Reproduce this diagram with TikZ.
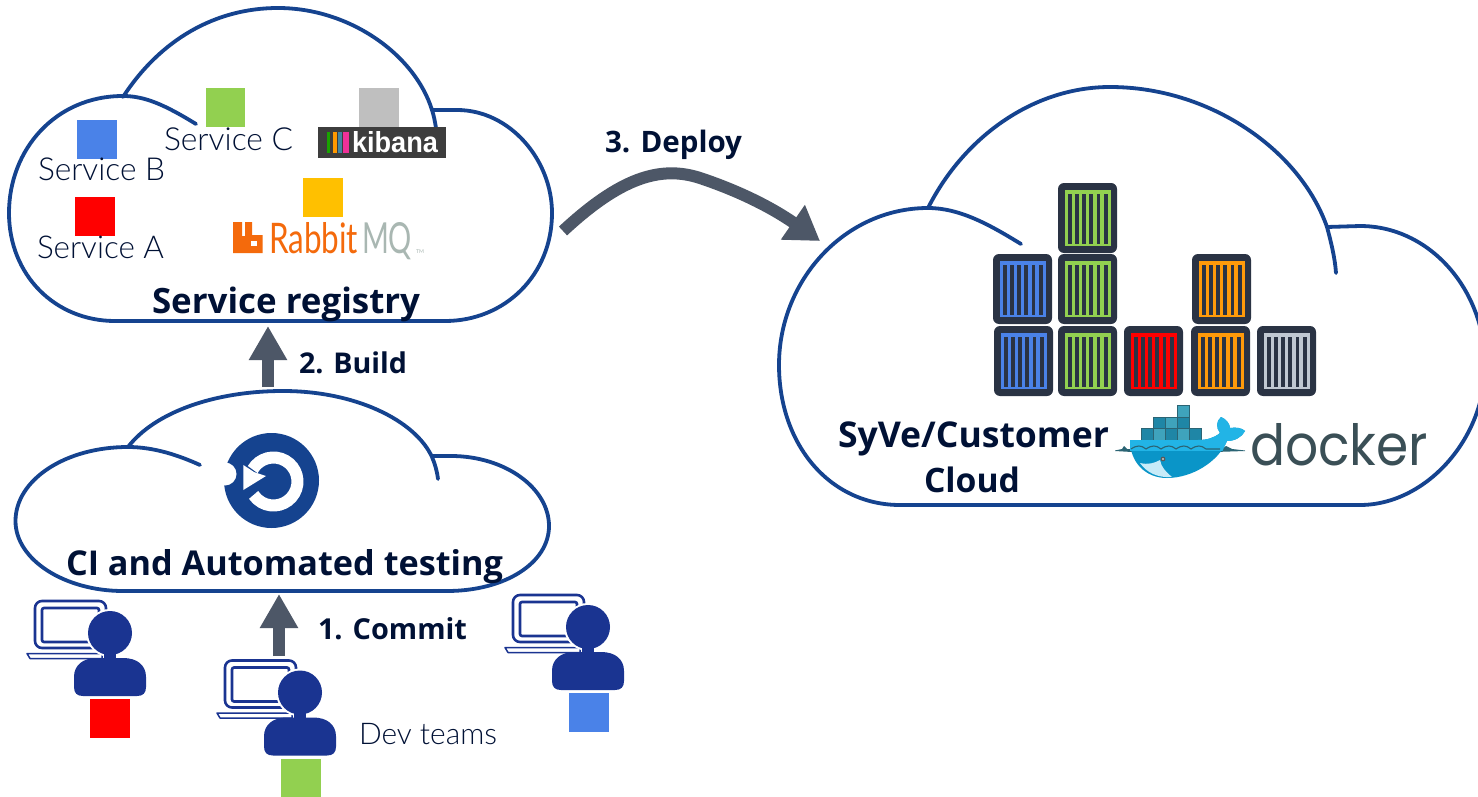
\documentclass[tikz,border=0pt]{standalone}
\usepackage{fontspec}
\usepackage{graphicx}
\usetikzlibrary{arrows.meta}
\setmainfont{Open Sans}
\newfontfamily\lab{Lato Light}
\newfontfamily\rab{Lato}
\newfontfamily\lsans{Liberation Sans}
\newfontfamily\poppins{Poppins}
\definecolor{cloudblue}{HTML}{15438F}
\definecolor{inktext}{HTML}{001135}
\definecolor{arrowgrey}{HTML}{4D5767}
\definecolor{persblue}{HTML}{1A3491}
\definecolor{sqred}{HTML}{FF0000}
\definecolor{sqblue}{HTML}{4A82E8}
\definecolor{sqgreen}{HTML}{92D050}
\definecolor{sqgrey}{HTML}{BFBFBF}
\definecolor{sqyellow}{HTML}{FFC000}
\definecolor{sqorange}{HTML}{FF9A0A}
\definecolor{sqsilver}{HTML}{C0C8D2}
\definecolor{boxdark}{HTML}{2A3344}
\definecolor{rabbit}{HTML}{F46A0C}
\definecolor{mqgrey}{HTML}{A9B7B2}
\definecolor{dockgrey}{HTML}{3A4F56}
\definecolor{whale}{HTML}{0A95C8}
\definecolor{whalelight}{HTML}{22B4E6}
\definecolor{boxteal}{HTML}{1F86A6}
\definecolor{boxlight}{HTML}{3FA3BC}
\definecolor{boxedge}{HTML}{2B6474}
\definecolor{kibdark}{HTML}{3D3D3D}
\tikzset{
  cloudline/.style={draw=cloudblue,line width=3.8pt,line cap=round,line join=round},
  txt/.style={inner sep=0pt,outer sep=0pt,anchor=base west,text=inktext},
  flowarrow/.style={draw=arrowgrey,line width=12pt,-{Triangle[length=34pt,width=36pt]}},
  sqbox/.style={draw=none,inner sep=0pt,outer sep=0pt,anchor=north west},
  lapline/.style={draw=persblue,line width=2.6pt},
}
% name, x0, y0, width, height, colour
\newcommand{\sqn}[6]{\node[sqbox,fill=#6,minimum width=#4pt,minimum height=#5pt] (#1) at (#2,#3) {};}
% text fitted to a width
\newcommand{\fitw}[2]{\resizebox{#1pt}{!}{#2}}
% container: name, x, y, colour
\newcommand{\contbox}[4]{%
  \node[sqbox,fill=boxdark,rounded corners=6pt,minimum width=59pt,minimum height=70pt] (#1) at (#2,#3) {};
  \begin{scope}[shift={(#2,#3)}]
    \fill[#4] (7,6.7) rectangle (53,63.3);
    \foreach \k in {0,...,5} {\fill[boxdark] ({9.7+\k*7.2},10.7) rectangle ({13.5+\k*7.2},60.7);}
  \end{scope}}
% developer: prefix, head x, head y
\newcommand{\devperson}[3]{%
  \begin{scope}[shift={(#2,#3)}]
    \draw[lapline,rounded corners=7pt] (-75,15) rectangle (-4,-32);
    \draw[lapline,rounded corners=2pt] (-68,9) rectangle (-11,-25);
    \draw[persblue,line width=1.5pt,fill=white,line join=round] (-83,20.5) -- (-8,20.5) -- (-8,25.5) -- (-80,25.5) -- cycle;
    \coordinate (#1head) at (0,0);
    \fill[white] (0,0) ellipse [x radius=24pt,y radius=24pt];
    \fill[persblue] (0,0) ellipse [x radius=22pt,y radius=22pt];
    \fill[persblue] (-6,15) rectangle (6,28);
    \fill[persblue] (-36,44) .. controls (-36,32) and (-27,25) .. (-13,25) -- (13,25) .. controls (27,25) and (36,32) .. (36,44) -- (36,54) .. controls (36,60) and (33,63) .. (27,63) -- (-27,63) .. controls (-33,63) and (-36,60) .. (-36,54) -- cycle;
  \end{scope}}
\begin{document}
\begin{tikzpicture}[x=1pt,y=-1pt]
\clip (0,0) rectangle (1478,797);
\fill[white] (0,0) rectangle (1478,797);

% ---------- Clouds
\draw[cloudline] (196,124) .. controls (165,105) and (145,96) .. (123,96) .. controls (55,96) and (9,150) .. (9,213) .. controls (9,275) and (55,321) .. (115,321) -- (445,321) .. controls (505,321) and (552,275) .. (552,213) .. controls (552,160) and (510,110) .. (457,110) -- (432,110);
\draw[cloudline] (123,97) .. controls (160,40) and (215,8) .. (278,8) .. controls (350,8) and (415,55) .. (432,110) .. controls (434,116) and (435,122) .. (436,128);

\draw[cloudline] (200,465) .. controls (180,456) and (155,447) .. (128,447) .. controls (65,447) and (15.5,480) .. (15.5,521) .. controls (15.5,560) and (65,591) .. (123,591) -- (447,591) .. controls (505,591) and (549,563) .. (549,526) .. controls (549,488) and (505,456) .. (451,456) -- (432,456);
\draw[cloudline] (128,447) .. controls (155,412) and (215,391) .. (283,391) .. controls (355,391) and (415,420) .. (432,457) .. controls (435,464) and (437,471) .. (438,479);

\draw[cloudline] (1021,244) .. controls (990,225) and (960,208) .. (928,208) .. controls (845,208) and (779,280) .. (779,365) .. controls (779,445) and (830,505) .. (900,505) -- (1360,505) .. controls (1425,505) and (1485,440) .. (1485,365) .. controls (1485,290) and (1430,226) .. (1360,226) -- (1327,227);
\draw[cloudline] (928,208) .. controls (965,135) and (1035,87) .. (1110,87) .. controls (1210,87) and (1300,150) .. (1327,227) .. controls (1331,242) and (1335,258) .. (1336,273);

% ---------- Service registry contents
\sqn{svcb}{77}{120}{40}{39}{sqblue}
\sqn{svcc}{206}{88}{39}{39}{sqgreen}
\sqn{kibsq}{359}{88}{40}{39}{sqgrey}
\sqn{rabsq}{303}{178}{40}{39}{sqyellow}
\sqn{svca}{75}{197}{40}{39}{sqred}
\node[txt] (tc) at (164,150) {\fitw{129}{\lab Service C}};
\node[txt] (tb) at (38,181) {\fitw{127}{\lab Service B}};
\node[txt] (ta) at (37,258) {\fitw{127}{\lab Service A}};
\node[txt] (treg) at (152,313) {\fitw{268}{\bfseries Service registry}};

% kibana logo
\node[sqbox,fill=kibdark,minimum width=128pt,minimum height=31pt] (kib) at (318,127) {};
\fill[green!60!black!90!yellow] (327,132) rectangle (330,153);
\fill[orange!80!yellow] (333,132) rectangle (337,153);
\fill[cyan!60!black] (338,132) rectangle (341.5,153);
\fill[magenta!75!pink] (342.5,132) rectangle (349,153);
\node[txt,text=white] (kibt) at (352,153) {\resizebox{86pt}{21pt}{\lsans\bfseries kibana}};

% RabbitMQ logo
\fill[rabbit] (233,222) -- (242,222) -- (242,236) -- (245,236) -- (245,222) -- (252,222) -- (252,235) -- (262.5,235) -- (262.5,253) -- (233,253) -- cycle;
\fill[white] (251,241) rectangle (257,246);
\node[txt,text=rabbit] (rabt) at (269,253) {\resizebox{89pt}{31pt}{\rab Rabbit}};
\node[txt,text=mqgrey] (mqt) at (362,253) {\resizebox{50pt}{31pt}{\rab MQ}};
\node[txt,text=mqgrey] (tmt) at (416,253) {\fitw{8}{\rab TM}};

% ---------- Flow arrows and labels
\coordinate (devtop) at (279,656);
\coordinate (citop) at (279,594);
\coordinate (cibase) at (268,387);
\coordinate (regbase) at (268,326);
\coordinate (regright) at (563,231);
\coordinate (cloudleft) at (820,241);
\draw[flowarrow] (devtop) -- (citop);
\draw[flowarrow] (cibase) -- (regbase);
\draw[draw=arrowgrey,line width=12pt,-{Triangle[length=33pt,width=40pt]}] (regright) .. controls (620,178) and (660,165) .. (700,178) .. controls (730,188) and (765,203) .. (cloudleft);
\node[txt] (l3) at (605,153) {\fitw{137}{\bfseries 3. Deploy}};
\node[txt] (l2) at (299,373) {\fitw{108}{\bfseries 2. Build}};
\node[txt] (l1) at (318,639) {\fitw{149}{\bfseries 1. Commit}};

% ---------- CI cloud contents
\fill[cloudblue] (271.5,480.5) circle (47.5pt);
\fill[white] (225,474) circle (11.5pt);
\draw[white,line width=12pt] (252.7,469.5) arc[start angle=150,end angle=-146,radius=24pt];
\fill[white] (243.3,465) -- (254,472) -- (266,476) -- (243.3,490) -- cycle;
\node[txt] (tci) at (66,575) {\fitw{437}{\bfseries CI and Automated testing}};

% ---------- Developers
\devperson{pa}{110}{633}
\devperson{pb}{300}{692.5}
\devperson{pc}{588}{627}
\sqn{sqa}{90}{699}{39.5}{39}{sqred}
\sqn{sqbb}{281}{759}{40}{38}{sqgreen}
\sqn{sqc}{569}{693}{40}{39}{sqblue}
\node[txt] (dev) at (359,744) {\fitw{138}{\lab Dev teams}};

% ---------- Containers
\contbox{c1}{1058}{183}{sqgreen}
\contbox{c2}{993}{254}{sqblue}
\contbox{c3}{1058}{254}{sqgreen}
\contbox{c4}{1192}{254}{sqorange}
\contbox{c5}{994}{326}{sqblue}
\contbox{c6}{1058}{326}{sqgreen}
\contbox{c7}{1124}{326}{sqred}
\contbox{c8}{1191}{326}{sqorange}
\contbox{c9}{1257}{326}{sqsilver}

\node[txt] (syve) at (838,447) {\fitw{271}{\bfseries SyVe/Customer}};
\node[txt] (cld) at (924,492) {\fitw{96}{\bfseries Cloud}};

% ---------- Docker logo
\foreach \i/\c in {0/boxteal,1/boxlight,2/boxteal,3/boxlight,4/boxteal} {\fill[\c,draw=boxedge,line width=.9pt] ({1141+\i*12},428) rectangle ++(12,12);}
\foreach \i/\c in {1/boxteal,2/boxlight,3/boxteal} {\fill[\c,draw=boxedge,line width=.9pt] ({1141+\i*12},417) rectangle ++(12,11);}
\fill[boxlight,draw=boxedge,line width=.9pt] (1177,405) rectangle ++(12,12);
\fill[boxedge] (1115,450.5) -- (1122,449) -- (1124,446) -- (1127,449) -- (1132,449) -- (1132,452) -- (1115,451) -- cycle;
\fill[boxedge] (1245,450.5) -- (1232,449) -- (1226,446) -- (1222,449) -- (1215,449) -- (1215,452) -- (1245,451) -- cycle;
\fill[whale] (1130,440) -- (1198,440) .. controls (1207,440) and (1214,438) .. (1220,433) .. controls (1216,428) and (1216,421) .. (1221,417) .. controls (1226,419) and (1230,424) .. (1230,428) .. controls (1236,427) and (1242,428) .. (1245,431) .. controls (1242,437) and (1235,441) .. (1227,441) .. controls (1218,462) and (1192,478) .. (1167,478) .. controls (1145,478) and (1130,462) .. (1130,440) -- cycle;
\begin{scope}
  \clip (1125,410) rectangle (1250,450);
  \fill[whalelight] (1130,440) -- (1198,440) .. controls (1207,440) and (1214,438) .. (1220,433) .. controls (1216,428) and (1216,421) .. (1221,417) .. controls (1226,419) and (1230,424) .. (1230,428) .. controls (1236,427) and (1242,428) .. (1245,431) .. controls (1242,437) and (1235,441) .. (1227,441) -- (1222,452) -- (1130,452) -- cycle;
\end{scope}
\draw[boxedge,line width=1.1pt] (1131,449) .. controls (1137,445) and (1141,445) .. (1146,449) .. controls (1152,445) and (1156,445) .. (1161,449) .. controls (1167,445) and (1171,445) .. (1176,449) .. controls (1182,445) and (1186,445) .. (1191,449) .. controls (1197,445) and (1201,445) .. (1206,449) -- (1220,449);
\fill[black!8!cyan!22] (1140,463) .. controls (1148,465) and (1155,463) .. (1160,460) .. controls (1161,467) and (1166,472) .. (1172,477) .. controls (1158,478) and (1147,473) .. (1140,463) -- cycle;
\fill[black!65] (1163,459) circle (2.4pt);
\fill[white] (1163,459) circle (.8pt);
\node[txt,text=dockgrey] (dockt) at (1250,465) {\resizebox{178pt}{42pt}{\poppins docker}};
\end{tikzpicture}
\end{document}
